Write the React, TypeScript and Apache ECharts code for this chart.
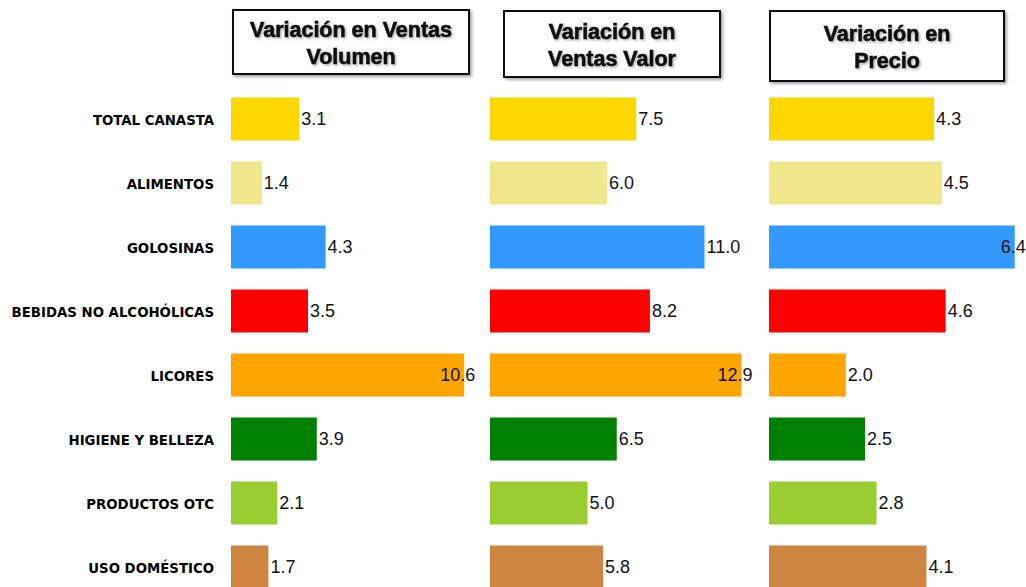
import React, { useEffect, useRef } from "react";
import * as echarts from "echarts";

const categories = [
  "TOTAL CANASTA",
  "ALIMENTOS",
  "GOLOSINAS",
  "BEBIDAS NO ALCOHÓLICAS",
  "LICORES",
  "HIGIENE Y BELLEZA",
  "PRODUCTOS OTC",
  "USO DOMÉSTICO",
];
const colors = ["#FFD700", "#F0E68C", "#3399FF", "#FF0000", "#FFA500", "#008000", "#9ACD32", "#CD853F"];
const volumen = [3.1, 1.4, 4.3, 3.5, 10.6, 3.9, 2.1, 1.7];
const valor = [7.5, 6.0, 11.0, 8.2, 12.9, 6.5, 5.0, 5.8];
const precio = [4.3, 4.5, 6.4, 4.6, 2.0, 2.5, 2.8, 4.1];
const titles = ["Variación en Ventas\nVolumen", "Variación en\nVentas Valor", "Variación en\nPrecio"];

const panels = [
  { data: volumen, left: 231, width: 264, max: 12, box: { x: 233, y: 10, w: 236, h: 64 } },
  { data: valor, left: 490, width: 253.5, max: 13, box: { x: 504, y: 11, w: 216, h: 66 } },
  { data: precio, left: 769, width: 249.6, max: 6.5, box: { x: 770, y: 11, w: 234, h: 70 } },
];

export default function App() {
  const ref = useRef<HTMLDivElement>(null);
  useEffect(() => {
    if (!ref.current) return;
    const chart = echarts.init(ref.current, null, { renderer: "svg" });
    const labelBase = {
      show: true,
      fontFamily: "Liberation Sans, Arial, sans-serif",
      fontSize: 18,
      color: "#111",
      formatter: (p: any) => Number(p.value).toFixed(1),
    };
    const option: any = {
      animation: false,
      backgroundColor: "#ffffff",
      grid: panels.map((p) => ({ left: p.left, width: p.width, top: 87, height: 512 })),
      xAxis: panels.map((p, i) => ({
        type: "value",
        gridIndex: i,
        min: 0,
        max: p.max,
        show: false,
      })),
      yAxis: panels.map((p, i) => ({
        type: "category",
        gridIndex: i,
        data: categories,
        inverse: true,
        axisLine: { show: false },
        axisTick: { show: false },
        splitLine: { show: false },
        axisLabel: {
          show: i === 0,
          margin: 17,
          fontFamily: "DejaVu Sans Condensed, Arial Narrow, sans-serif",
          fontWeight: "bold",
          fontSize: 14.8,
          color: "#000",
        },
      })),
      series: panels.map((p, i) => {
        const mx = Math.max(...p.data);
        return {
          type: "bar",
          xAxisIndex: i,
          yAxisIndex: i,
          barCategoryGap: "33%",
          data: p.data.map((v, j) => ({
            value: v,
            itemStyle: { color: colors[j] },
            label:
              v === mx
                ? { position: "insideRight", distance: 0, offset: [11, 0] }
                : { position: "right", distance: 2 },
          })),
          label: labelBase,
        };
      }),
      graphic: panels.flatMap((p, i) => [
        {
          type: "rect",
          shape: { x: p.box.x, y: p.box.y, width: p.box.w, height: p.box.h },
          style: {
            fill: "#fff",
            stroke: "#111",
            lineWidth: 2,
            shadowBlur: 3,
            shadowOffsetX: 2,
            shadowOffsetY: 2,
            shadowColor: "rgba(0,0,0,0.35)",
          },
          z: 10,
        },
        {
          type: "text",
          x: p.box.x + p.box.w / 2,
          y: p.box.y + p.box.h / 2 + 1,
          style: {
            text: titles[i],
            fill: "#111",
            stroke: "#111",
            lineWidth: 0.6,
            font: "bold 21.5px 'Liberation Sans', Arial, sans-serif",
            lineHeight: 27,
            align: "center",
            verticalAlign: "middle",
            textShadowColor: "rgba(0,0,0,0.3)",
            textShadowBlur: 2,
            textShadowOffsetX: 1.5,
            textShadowOffsetY: 1.5,
          },
          z: 11,
        },
      ]),
    };
    chart.setOption(option);
    return () => chart.dispose();
  }, []);
  return (
    <div style={{ position: "fixed", left: 0, top: 0, width: 1026, height: 587, overflow: "hidden", background: "#fff" }}>
      <div ref={ref} style={{ width: 1026, height: 600 }} />
    </div>
  );
}
